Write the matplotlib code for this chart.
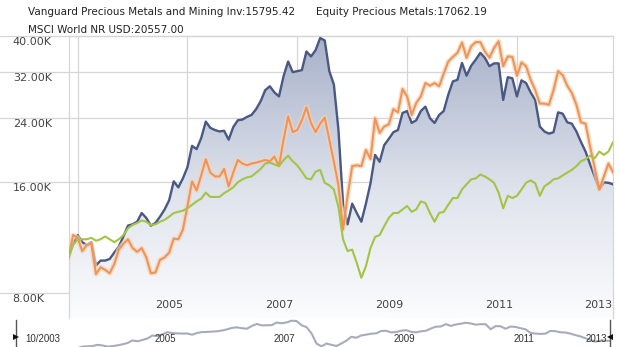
import numpy as np
import pandas as pd
import matplotlib
matplotlib.use('Agg')
import matplotlib.pyplot as plt
from matplotlib.colors import LinearSegmentedColormap

# ---------------- data (growth of 10K, values in thousands USD) ----------------
months = pd.date_range('2003-10-31', periods=120, freq='ME')

vanguard = [10.0, 10.9, 11.5, 11.0, 10.8, 11.0, 9.5, 9.8, 9.8, 9.9,
            10.3, 10.7, 11.4, 12.2, 12.3, 12.5, 13.2, 12.8, 12.2, 12.4,
            12.9, 13.5, 14.3, 16.1, 15.5, 16.4, 17.6, 20.1, 19.7, 21.1,
            23.4, 22.5, 22.2, 22.0, 22.1, 20.9, 22.6, 23.6, 23.7, 24.1,
            24.4, 25.3, 26.6, 28.5, 29.2, 28.1, 27.4, 31.1, 34.1, 31.9,
            32.1, 32.3, 36.3, 35.2, 36.6, 39.5, 38.9, 32.1, 29.5, 22.2,
            14.0, 12.3, 14.0, 13.2, 12.5, 14.0, 15.9, 19.0, 18.2, 20.2,
            21.0, 21.9, 22.2, 24.7, 25.0, 23.2, 23.6, 25.0, 25.7, 23.9,
            23.2, 24.4, 25.0, 27.7, 30.1, 30.4, 33.8, 31.2, 33.2, 34.5,
            36.0, 34.9, 33.1, 33.7, 33.7, 26.8, 30.9, 30.7, 27.4, 30.3,
            29.8, 28.1, 26.8, 22.7, 22.0, 21.7, 21.9, 24.8, 24.6, 23.3,
            23.1, 22.0, 20.6, 19.4, 17.9, 16.6, 15.3, 16.0, 15.95, 15.8]

equity = [10.0, 11.5, 11.3, 10.4, 10.8, 10.9, 9.0, 9.4, 9.25, 9.05,
          9.6, 10.5, 10.9, 11.2, 10.6, 10.35, 10.6, 10.0, 9.05, 9.1,
          9.85, 10.0, 10.3, 11.25, 11.2, 11.9, 13.8, 16.1, 15.2, 16.7,
          18.5, 17.0, 16.6, 16.6, 17.4, 15.6, 17.0, 18.4, 18.0, 17.8,
          18.0, 18.1, 18.25, 18.4, 18.25, 18.8, 17.7, 20.9, 24.2, 21.9,
          22.2, 23.6, 25.6, 23.2, 21.9, 23.1, 24.0, 20.9, 18.2, 15.7,
          11.9, 14.7, 17.7, 17.8, 17.7, 19.6, 18.5, 23.9, 21.8, 22.7,
          23.0, 25.3, 24.8, 28.7, 27.4, 24.4, 26.3, 27.4, 29.8, 29.3,
          29.8, 29.2, 31.6, 34.1, 35.1, 36.0, 38.4, 34.9, 37.5, 38.5,
          38.5, 36.3, 34.9, 37.1, 38.7, 33.1, 35.2, 35.1, 31.2, 33.9,
          33.1, 30.4, 28.5, 26.2, 26.2, 26.0, 28.5, 32.1, 31.3, 29.3,
          28.0, 26.0, 23.3, 23.1, 20.0, 17.5, 15.3, 16.6, 18.0, 17.06]

msci = [10.0, 10.8, 11.2, 11.2, 11.2, 11.3, 11.1, 11.2, 11.4, 11.2,
        11.0, 11.2, 11.5, 12.0, 12.25, 12.4, 12.6, 12.5, 12.25, 12.3,
        12.5, 12.65, 12.9, 13.2, 13.3, 13.4, 13.6, 13.9, 14.2, 14.45,
        15.0, 14.6, 14.6, 14.6, 14.95, 15.2, 15.5, 16.0, 16.3, 16.5,
        16.6, 17.0, 17.4, 18.0, 18.1, 17.9, 17.7, 18.4, 18.9, 18.25,
        17.8, 17.1, 16.4, 16.3, 17.1, 17.3, 15.95, 15.7, 15.3, 13.7,
        11.2, 10.4, 10.5, 9.66, 8.8, 9.46, 10.6, 11.36, 11.5, 12.15,
        12.8, 13.2, 13.2, 13.5, 13.8, 13.3, 13.5, 14.2, 14.05, 13.2,
        12.5, 13.2, 13.3, 13.9, 14.5, 14.5, 15.3, 15.8, 16.3, 16.4,
        16.8, 16.6, 16.3, 15.95, 15.0, 13.6, 14.7, 14.5, 14.7, 15.3,
        15.95, 16.2, 15.9, 14.7, 15.6, 15.9, 16.3, 16.4, 16.7, 17.0,
        17.3, 17.7, 18.25, 18.5, 18.9, 18.6, 19.4, 19.0, 19.4, 20.56]

series_names = ['Vanguard Precious Metals and Mining Inv',
                'Equity Precious Metals', 'MSCI World NR USD']
final_values = [15795.42, 17062.19, 20557.00]

y_ticks = [8, 16, 24, 32, 40]
y_tick_labels = ['8.00K', '16.00K', '24.00K', '32.00K', '40.00K']
x_grid_years = [2004, 2006, 2008, 2010, 2012]
x_labels = ['2005', '2007', '2009', '2011', '2013']
nav_labels = ['10/2003', '2005', '2007', '2009', '2011', '2013']

# ---------------- styling / layout ----------------
W, H = 620, 347
C_BLUE = '#4a5983'
C_ORANGE = '#ef9456'
C_ORANGE_HALO = '#f9d3b6'
C_GREEN = '#a3c444'
C_GRID = '#d6d6d6'
C_NAV = '#a6acba'

t = np.asarray(months.year + months.month / 12.0, dtype=float)

fig = plt.figure(figsize=(W / 100, H / 100), dpi=100)
fig.patch.set_facecolor('white')

L, R, T, B = 68.5, 613.0, 36.0, 318.0
ax = fig.add_axes([L / W, (H - B) / H, (R - L) / W, (B - T) / H])
ax.set_yscale('log')
y_top = 40.0
y_bot = y_top * (8.0 / 40.0) ** ((B - T) / (293.0 - T))
ax.set_xlim(t[0], t[-1])
ax.set_ylim(y_bot, y_top)

# gradient area under the Vanguard line
poly = ax.fill_between(t, vanguard, y_bot, facecolor='none', edgecolor='none')
cmap = LinearSegmentedColormap.from_list(
    'g', [(0.0, '#fbfcfd'), (0.45, '#dfe3ec'), (1.0, '#a7b1c9')])
grad = np.linspace(0, 1, 256).reshape(-1, 1)
im = ax.imshow(grad, extent=[0, 1, 0, 1], transform=ax.transAxes,
               origin='lower', cmap=cmap, aspect='auto', zorder=1,
               interpolation='bilinear')
im.set_clip_path(poly.get_paths()[0], transform=ax.transData)

# grid
ext = -(L) / (R - L)
for v in y_ticks:
    ax.axhline(v, xmin=ext, xmax=1, color=C_GRID, lw=0.9, zorder=0.5,
               clip_on=False)
for yr in x_grid_years:
    ax.axvline(yr, color=C_GRID, lw=0.9, zorder=0.5)

for s in ['left', 'right', 'top']:
    ax.spines[s].set_color(C_GRID)
    ax.spines[s].set_linewidth(0.9)
ax.spines['bottom'].set_visible(False)
ax.set_xticks([])
ax.set_yticks([])
ax.minorticks_off()
ax.tick_params(which='both', length=0, labelleft=False, labelbottom=False)
ax.set_facecolor('none')

# lines
ax.plot(t, vanguard, color=C_BLUE, lw=1.7, zorder=3, solid_joinstyle='round')
ax.plot(t, equity, color=C_ORANGE_HALO, lw=3.6, alpha=0.7, zorder=3.8,
        solid_joinstyle='round')
ax.plot(t, equity, color=C_ORANGE, lw=1.5, zorder=4, solid_joinstyle='round')
ax.plot(t, msci, color=C_GREEN, lw=1.5, zorder=5, solid_joinstyle='round')

ax.set_xlim(t[0], t[-1])
ax.set_ylim(y_bot, y_top)

# y labels (left aligned, just under gridline)
for v, lab in zip(y_ticks, y_tick_labels):
    ax.annotate(lab, xy=(12.7, v), xycoords=('figure pixels', 'data'),
                xytext=(0, -0.8), textcoords='offset points', ha='left',
                va='top', fontsize=8, color='#444444', annotation_clip=False)

# x labels (inside plot bottom, right-aligned to gridlines)
x_label_pos = x_grid_years[1:] + [t[-1]]
for i, (xp, lab) in enumerate(zip(x_label_pos, x_labels)):
    dx = -2.9 if i < len(x_labels) - 1 else -0.8
    ax.annotate(lab, xy=(xp, 0), xycoords=('data', 'axes fraction'),
                xytext=(dx, 9.0), textcoords='offset points', ha='right',
                va='center', fontsize=8, color='#444444', zorder=6)

# header texts
fig.text(28 / W, 1 - 12 / H, f'{series_names[0]}:{final_values[0]:.2f}',
         ha='left', va='center', fontsize=7.5, color='#222222')
fig.text(316 / W, 1 - 12 / H, f'{series_names[1]}:{final_values[1]:.2f}',
         ha='left', va='center', fontsize=7.5, color='#222222')
fig.text(28 / W, 1 - 30 / H, f'{series_names[2]}:{final_values[2]:.2f}',
         ha='left', va='center', fontsize=7.5, color='#222222')

# ---------------- navigator ----------------
NL, NR, NT = 16.0, 610.0, 319.0
nav = fig.add_axes([NL / W, 0, (NR - NL) / W, (H - NT) / H])
nav.set_yscale('log')
nav_x0 = t[0] - (2.0 / 59.7)
nav.set_xlim(nav_x0, t[-1])
nav.set_ylim(11.95, 42.7)
nav.plot(t, vanguard, color=C_NAV, lw=1.5, zorder=2)
nav.axis('off')
nav.axvline(nav_x0, ymin=0, ymax=0.97, color='#555555', lw=1.0, clip_on=False)
nav.axvline(t[-1], ymin=0, ymax=0.97, color='#555555', lw=1.0, clip_on=False)
nav.plot([0.0], [0.36], marker='>', ms=5, color='#111111',
         transform=nav.transAxes, clip_on=False, mew=0)
nav.plot([1.0], [0.36], marker='<', ms=5, color='#111111',
         transform=nav.transAxes, clip_on=False, mew=0)

nav_font = dict(fontsize=7, color='#333333', family=['Liberation Sans', 'DejaVu Sans'])
nav.annotate(nav_labels[0], xy=(nav_x0, 0.27), xycoords=('data', 'axes fraction'),
             xytext=(6.5, 0), textcoords='offset points', ha='left', va='center',
             **nav_font)
for yr, lab in zip(x_grid_years[1:], nav_labels[1:-1]):
    nav.annotate(lab, xy=(yr + 0.3, 0.27), xycoords=('data', 'axes fraction'),
                 ha='center', va='center', **nav_font)
nav.annotate(nav_labels[-1], xy=(t[-1], 0.27), xycoords=('data', 'axes fraction'),
             xytext=(-2.2, 0), textcoords='offset points', ha='right',
             va='center', **nav_font)

fig.savefig('out.png', dpi=100, facecolor='white')
